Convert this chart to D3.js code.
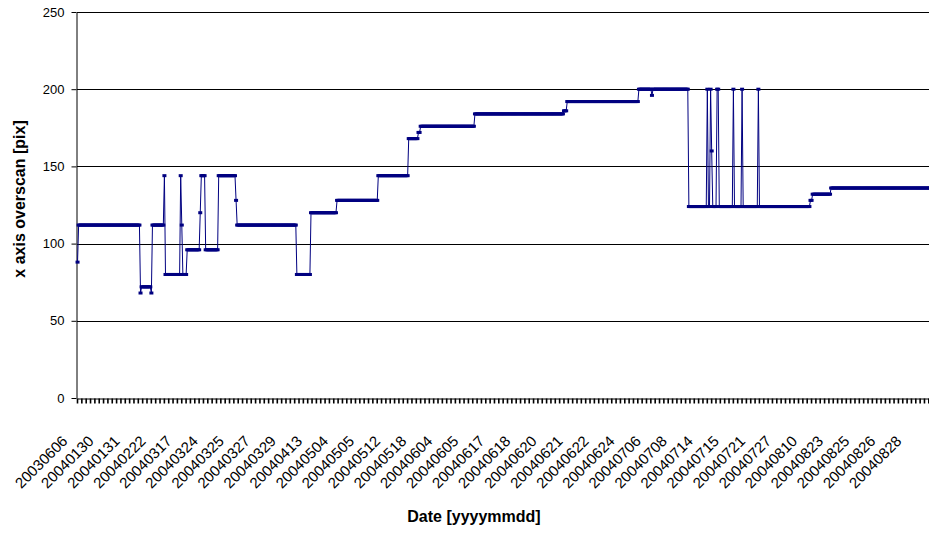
<!DOCTYPE html>
<html>
<head>
<meta charset="utf-8">
<script src="https://cdn.jsdelivr.net/npm/d3@7"></script>
<style>
  body { margin: 0; background: #fff; }
  svg { display: block; }
  text { font-family: "Liberation Sans", Arial, sans-serif; fill: #000; }
</style>
</head>
<body>
<svg id="chart" width="929" height="534"></svg>
<script>
// Overscan level (pixels) held between changes, and how many consecutive readings it lasted
const levels = [88, 112, 68, 72, 68, 112, 144, 80, 144, 112, 80, 96, 120, 144, 96, 144, 128, 112, 80,
  120, 128, 144, 168, 172, 176, 184, 186, 192, 200, 196, 200, 124, 200, 124, 200, 160, 124, 200,
  124, 200, 124, 200, 124, 200, 124, 128, 132, 136];
const runLengths = [1, 57, 1, 9, 1, 11, 1, 14, 1, 1, 4, 12, 1, 4, 12, 16, 1, 55, 13,
  24, 38, 28, 9, 2, 50, 82, 3, 66, 12, 1, 33, 17, 1, 2, 1, 1, 4, 2,
  13, 1, 7, 1, 14, 1, 47, 2, 17, 98];

// Dates printed under the axis (one every labelled group of readings)
const dateLabels = ["20030606", "20040130", "20040131", "20040222", "20040317", "20040324",
  "20040325", "20040327", "20040329", "20040413", "20040504", "20040505", "20040512",
  "20040518", "20040604", "20040605", "20040617", "20040618", "20040620", "20040621",
  "20040622", "20040624", "20040706", "20040708", "20040714", "20040715", "20040721",
  "20040727", "20040810", "20040823", "20040825", "20040826", "20040828"];

const yTicks = [0, 50, 100, 150, 200, 250];
const readingsPerTick = 4;
const ticksPerLabel = 6;

// one value per reading, in order
const readings = levels.flatMap((v, k) => Array(runLengths[k]).fill(v));
const N = readings.length;

const svg = d3.select("#chart");
const plotLeft = 77, plotRight = 937, plotTop = 12, plotBottom = 398;

const x = d3.scaleLinear().domain([0, N]).range([plotLeft, plotRight]);
const y = d3.scaleLinear().domain([0, 250]).range([plotBottom, plotTop]);

// horizontal gridlines
svg.append("g")
  .selectAll("line")
  .data(yTicks.filter(d => d > 0))
  .join("line")
  .attr("x1", plotLeft).attr("x2", plotRight)
  .attr("y1", d => Math.round(y(d)) + 0.5).attr("y2", d => Math.round(y(d)) + 0.5)
  .attr("stroke", "#000").attr("stroke-width", 1);

// y axis
const yAxis = svg.append("g")
  .attr("transform", `translate(${plotLeft - 0.5},0)`)
  .call(d3.axisLeft(y).tickValues(yTicks).tickSize(5).tickSizeOuter(0).tickPadding(7));
yAxis.select(".domain").attr("stroke", "#000");
yAxis.selectAll(".tick line").attr("stroke", "#000");
yAxis.selectAll(".tick text")
  .style("font-size", "13px")
  .attr("fill", "#000");

// x axis: a tick mark every few readings
const xTickAxis = svg.append("g")
  .attr("transform", `translate(0,${plotBottom + 0.5})`)
  .call(d3.axisBottom(x)
    .tickValues(d3.range(0, N + 1, readingsPerTick))
    .tickSize(5).tickSizeOuter(0).tickFormat(""));
xTickAxis.select(".domain").attr("stroke", "#000");
xTickAxis.selectAll(".tick line").attr("stroke", "#000").attr("stroke-width", 1.6);

// x axis: rotated date labels
const step = readingsPerTick * ticksPerLabel;
const xLabelAxis = svg.append("g")
  .attr("transform", `translate(0,${plotBottom})`)
  .call(d3.axisBottom(x)
    .tickValues(dateLabels.map((_, j) => j * step))
    .tickSize(0)
    .tickFormat(d => dateLabels[d / step]));
xLabelAxis.select(".domain").remove();
xLabelAxis.selectAll(".tick text")
  .attr("x", null).attr("y", null).attr("dy", null)
  .attr("text-anchor", "end")
  .attr("transform", "translate(-9,44) rotate(-45)")
  .style("font-size", "15px");

// series: thin connecting line plus a short dash marker at every reading
const line = d3.line()
  .x((d, i) => x(i + 0.5))
  .y(d => y(d));

svg.append("path")
  .datum(readings)
  .attr("d", line)
  .attr("fill", "none")
  .attr("stroke", "#000080")
  .attr("stroke-width", 1);

svg.append("g")
  .selectAll("rect")
  .data(readings)
  .join("rect")
  .attr("x", (d, i) => x(i + 0.5) - 2)
  .attr("y", d => y(d) - 1.5)
  .attr("width", 4)
  .attr("height", 3)
  .attr("fill", "#000080");

// axis titles
svg.append("text")
  .attr("x", 474).attr("y", 522)
  .attr("text-anchor", "middle")
  .style("font-size", "16px").style("font-weight", "bold")
  .text("Date [yyyymmdd]");

svg.append("text")
  .attr("transform", "translate(25,199) rotate(-90)")
  .attr("text-anchor", "middle")
  .style("font-size", "16px").style("font-weight", "bold")
  .text("x axis overscan [pix]");
</script>
</body>
</html>
